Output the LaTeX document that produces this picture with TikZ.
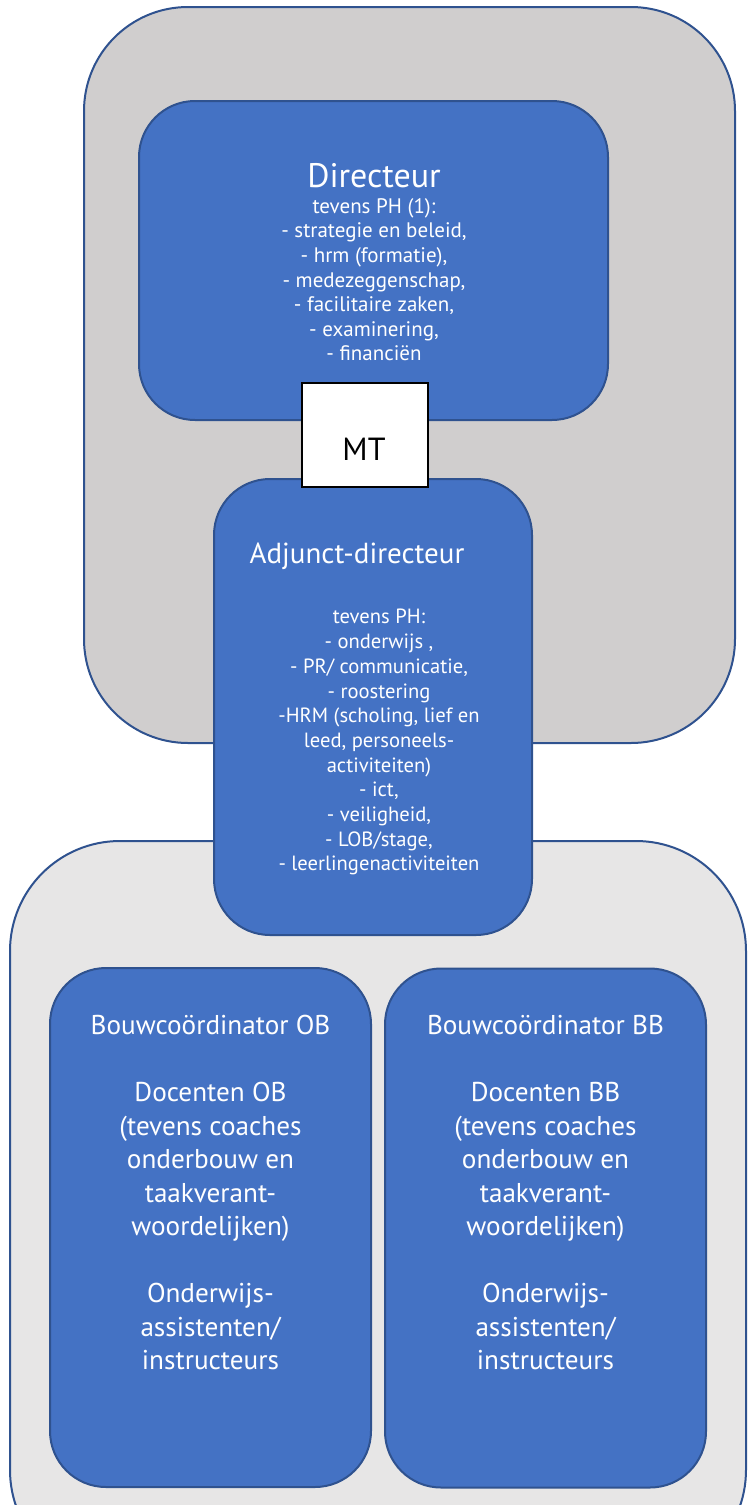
\documentclass[tikz,border=0pt]{standalone}
\usepackage{fontspec}
\setmainfont{PT Sans}
\usepackage{xcolor}
\usepackage{tikz}
\definecolor{boxblue}{HTML}{4472C4}
\definecolor{boxedge}{HTML}{2F528F}
\definecolor{mtgray}{HTML}{D0CECE}
\definecolor{teamgray}{HTML}{E7E6E6}
\tikzset{
  groupArea/.style={draw=boxedge, line width=1pt},
  roleBox/.style={draw=boxedge, fill=boxblue, line width=1pt, rounded corners=28pt,
    inner sep=0pt},
  roleText/.style={text=white, align=center, inner sep=0pt},
  mtBox/.style={draw=black, fill=white, line width=0.8pt, minimum width=63pt,
    minimum height=52pt, inner sep=0pt}
}

\begin{document}
\begin{tikzpicture}[x=0.5pt, y=-0.5pt]
  \useasboundingbox (0,0) rectangle (748,1505);
  \clip (0,0) rectangle (748,1505);

  % MT area and team area
  \draw[groupArea, fill=mtgray, rounded corners=52pt] (84,7) rectangle (735,743);
  \draw[groupArea, fill=teamgray, rounded corners=55pt] (10,841) rectangle (746,1580);

  \node[roleBox, minimum width=234.5pt, minimum height=159.5pt] (dir) at (373.5,260.5) {};
  \node[roleText, font=\fontsize{17}{20}\selectfont] (dirTitle) at (374,176) {Directeur};
  \node[roleText, anchor=north, font=\fontsize{10.5}{12.3}\selectfont] (dirText) at (374,198) {%
    tevens PH (1):\\
    - strategie en beleid,\\
    - hrm (formatie),\\
    - medezeggenschap,\\
    - facilitaire zaken,\\
    - examinering,\\
    - financiën};

  \node[roleBox, minimum width=159pt, minimum height=228pt] (adj) at (373,707) {};
  \node[roleText, font=\fontsize{14.5}{17}\selectfont] (adjTitle) at (357,556) {Adjunct-directeur};
  \node[roleText, anchor=north, font=\fontsize{10.3}{12.35}\selectfont] (adjText) at (379,609) {%
    tevens PH:\\
    - onderwijs ,\\
    - PR/ communicatie,\\
    - roostering\\
    -HRM (scholing, lief en\\
    leed, personeels-\\
    activiteiten)\\
    - ict,\\
    - veiligheid,\\
    - LOB/stage,\\
    - leerlingenactiviteiten};

  \node[mtBox] (mt) at (365,435) {};
  \node[text=black, inner sep=0pt, font=\fontsize{16}{18}\selectfont] (mtText) at (364,449) {MT};

  \node[roleBox, minimum width=160.5pt, minimum height=259.5pt] (ob) at (210.5,1227.5) {};
  \node[roleText, anchor=north, font=\fontsize{13.6}{16.75}\selectfont] (obText) at (210.5,1015) {%
    Bouwcoördinator OB\\[16.75pt]
    Docenten OB\\
    (tevens coaches\\
    onderbouw en\\
    taakverant-\\
    woordelijken)\\[16.75pt]
    Onderwijs-\\
    assistenten/\\
    instructeurs};

  \node[roleBox, minimum width=160.5pt, minimum height=259.5pt] (bb) at (545.5,1228) {};
  \node[roleText, anchor=north, font=\fontsize{13.6}{16.75}\selectfont] (bbText) at (545.5,1015) {%
    Bouwcoördinator BB\\[16.75pt]
    Docenten BB\\
    (tevens coaches\\
    onderbouw en\\
    taakverant-\\
    woordelijken)\\[16.75pt]
    Onderwijs-\\
    assistenten/\\
    instructeurs};
\end{tikzpicture}
\end{document}
